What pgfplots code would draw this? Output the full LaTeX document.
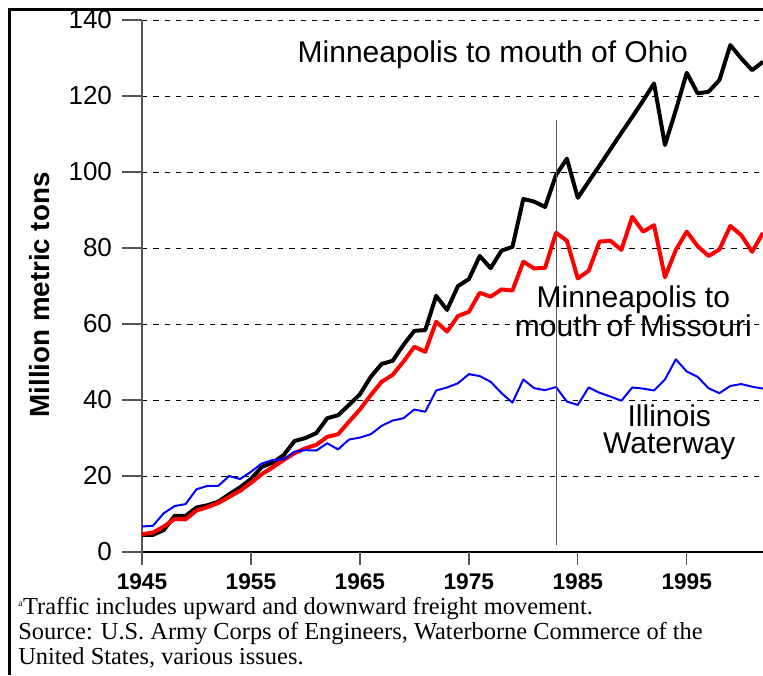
\documentclass[border=0pt]{standalone}
\usepackage{fontspec}
\setmainfont{Liberation Sans}
\newfontfamily\seriffont{Liberation Serif}
\usepackage{pgfplots}
\pgfplotsset{compat=1.18}
\definecolor{tickgray}{HTML}{555555}

\pgfplotstableread{
year ohio missouri illinois
1945 4.5 4.7 6.7
1946 4.5 5.1 6.9
1947 5.8 6.7 10.2
1948 9.5 8.7 12.1
1949 9.5 8.6 12.6
1950 11.7 10.9 16.5
1951 12.3 11.8 17.4
1952 13.2 12.9 17.4
1953 15.2 14.5 20.0
1954 17.0 16.1 19.2
1955 19.2 18.2 21.1
1956 22.4 20.5 23.3
1957 23.5 22.3 24.2
1958 25.5 24.2 24.4
1959 29.2 26.0 26.4
1960 30.0 27.3 26.8
1961 31.3 28.2 26.7
1962 35.2 30.3 28.6
1963 36.0 31.0 27.0
1964 38.7 34.3 29.6
1965 41.5 37.5 30.1
1966 46.1 41.3 31.0
1967 49.5 44.8 33.2
1968 50.3 46.6 34.6
1969 54.5 50.1 35.2
1970 58.2 54.0 37.5
1971 58.4 52.7 36.9
1972 67.4 60.6 42.5
1973 63.7 58.0 43.3
1974 70.0 62.1 44.4
1975 71.8 63.2 46.8
1976 77.9 68.2 46.3
1977 74.7 67.2 44.8
1978 79.3 69.1 41.8
1979 80.3 68.8 39.3
1980 92.9 76.4 45.4
1981 92.2 74.6 43.1
1982 90.8 74.8 42.6
1983 99.2 84.0 43.4
1984 103.5 81.9 39.6
1985 93.2 72.0 38.7
1986 97.5 74.0 43.3
1987 101.7 81.7 41.9
1988 106.0 81.9 40.9
1989 110.3 79.5 39.8
1990 114.5 88.2 43.3
1991 118.8 84.3 43.0
1992 123.3 86.0 42.5
1993 107.1 72.3 45.4
1994 116.3 79.5 50.7
1995 126.1 84.3 47.5
1996 120.7 80.5 46.1
1997 121.1 77.9 43.1
1998 124.2 79.6 41.8
1999 133.4 85.8 43.7
2000 129.9 83.4 44.2
2001 126.8 79.0 43.5
2002 129.0 84.0 43.0
}\datatable

\begin{document}
\begin{tikzpicture}
\path[use as bounding box] (0pt,0pt) rectangle (572.25pt,506.25pt);
\begin{axis}[
  at={(106.5pt,92.25pt)}, anchor=south west,
  scale only axis, width=465.75pt, height=399pt,
  xmin=1945, xmax=2002, ymin=0, ymax=140,
  axis x line=bottom, axis y line=left,
  axis line style={-},
  x axis line style={black, line width=0.9pt},
  y axis line style={tickgray, line width=0.9pt},
  xtick={1945,1955,...,1995},
  ytick={0,20,...,140},
  major tick length=0pt,
  xtick style={draw=none},
  ytick style={draw=none},
  x tick label style={/pgf/number format/1000 sep={}, font=\fontsize{17}{20}\selectfont\bfseries, inner sep=1pt, yshift=-15pt},
  y tick label style={font=\fontsize{19.5}{22}\selectfont, xshift=-19pt},
  /pgf/number format/assume math mode=true,
  ymajorgrids,
  grid style={black, line width=0.6pt, dash pattern=on 4pt off 4.5pt},
  clip=false,
]
\pgfplotsinvokeforeach{1945,1955,1965,1975,1985,1995}{
  \draw[tickgray, line width=1pt] (axis cs:#1,0) -- ++(0pt,-10pt);
}
\pgfplotsinvokeforeach{0,20,40,60,80,100,120,140}{
  \draw[tickgray, line width=1pt] (axis cs:1945,#1) -- ++(-15pt,0pt);
}
\addplot[black, line width=3pt, line join=round] table[x=year, y=ohio] {\datatable};
\addplot[red, line width=3pt, line join=round] table[x=year, y=missouri] {\datatable};
\addplot[blue, line width=1.5pt, line join=round] table[x=year, y=illinois] {\datatable};
\addplot[tickgray, line width=0.75pt] coordinates {(1983,1.8) (1983,113.7)};
\node[font=\fontsize{22.5}{24}\selectfont] at (axis cs:1977.2,130.8) {Minneapolis to mouth of Ohio};
\node[font=\fontsize{22.5}{20.5}\selectfont, align=center] at (axis cs:1990.1,63.4) {Minneapolis to\\mouth of Missouri};
\node[font=\fontsize{22.5}{20.5}\selectfont, align=center] at (axis cs:1993.4,31.6) {Illinois\\Waterway};
\end{axis}
\node[rotate=90, font=\fontsize{20.8}{24}\selectfont\bfseries] at (30pt,285pt) {Million metric tons};
\draw[black, line width=2.25pt] (6.75pt,0pt) -- (6.75pt,499.1pt) -- (572.25pt,499.1pt);
\node[anchor=north west, align=left, inner sep=0pt, font=\seriffont\fontsize{18.3}{18.75}\selectfont] at (13.5pt,58.5pt)
  {\textsuperscript{\scriptsize a}Traffic includes upward and downward freight movement.\\
   Source: U.S. Army Corps of Engineers, Waterborne Commerce of the\\
   United States, various issues.};
\end{tikzpicture}
\end{document}
